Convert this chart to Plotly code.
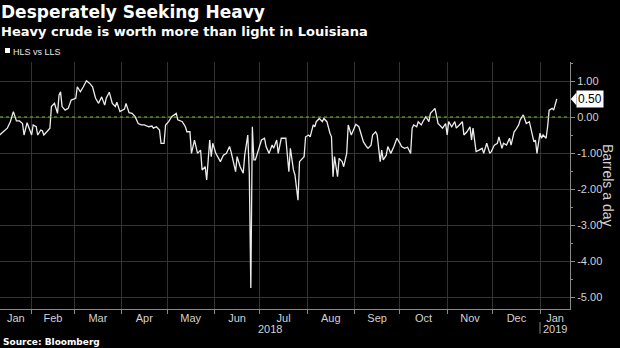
import plotly.graph_objects as go
import pandas as pd

# ---------------- data ----------------
dates = [
    "2018-01-11", "2018-01-16", "2018-01-18", "2018-01-20", "2018-01-22", "2018-01-24", "2018-01-26", "2018-01-27",
    "2018-01-29", "2018-01-31", "2018-02-01", "2018-02-02", "2018-02-04", "2018-02-05", "2018-02-07", "2018-02-08",
    "2018-02-09", "2018-02-11", "2018-02-13", "2018-02-14", "2018-02-16", "2018-02-18", "2018-02-19", "2018-02-20",
    "2018-02-21", "2018-02-23", "2018-02-25", "2018-02-27", "2018-03-02", "2018-03-03", "2018-03-05", "2018-03-07",
    "2018-03-09", "2018-03-11", "2018-03-13", "2018-03-15", "2018-03-17", "2018-03-19", "2018-03-21", "2018-03-22",
    "2018-03-24", "2018-03-26", "2018-03-28", "2018-03-29", "2018-03-31", "2018-04-03", "2018-04-04", "2018-04-06",
    "2018-04-08", "2018-04-10", "2018-04-12", "2018-04-14", "2018-04-16", "2018-04-19", "2018-04-21", "2018-04-22",
    "2018-04-24", "2018-04-26", "2018-04-27", "2018-04-29", "2018-04-30", "2018-05-02", "2018-05-04", "2018-05-07",
    "2018-05-08", "2018-05-11", "2018-05-13", "2018-05-14", "2018-05-16", "2018-05-17", "2018-05-19", "2018-05-21",
    "2018-05-23", "2018-05-24", "2018-05-26", "2018-05-27", "2018-05-29", "2018-05-30", "2018-05-31", "2018-06-02",
    "2018-06-05", "2018-06-07", "2018-06-09", "2018-06-11", "2018-06-12", "2018-06-15", "2018-06-16", "2018-06-18",
    "2018-06-20", "2018-06-21", "2018-06-22", "2018-06-23", "2018-06-24", "2018-06-25", "2018-06-26", "2018-06-27",
    "2018-06-28", "2018-06-30", "2018-07-02", "2018-07-04", "2018-07-05", "2018-07-07", "2018-07-09", "2018-07-10",
    "2018-07-12", "2018-07-13", "2018-07-14", "2018-07-15", "2018-07-18", "2018-07-20", "2018-07-21", "2018-07-23",
    "2018-07-24", "2018-07-26", "2018-07-27", "2018-07-28", "2018-07-30", "2018-07-31", "2018-08-02", "2018-08-03",
    "2018-08-05", "2018-08-06", "2018-08-07", "2018-08-09", "2018-08-11", "2018-08-12", "2018-08-14", "2018-08-16",
    "2018-08-17", "2018-08-18", "2018-08-19", "2018-08-21", "2018-08-22", "2018-08-24", "2018-08-25", "2018-08-27",
    "2018-08-28", "2018-08-30", "2018-08-31", "2018-09-02", "2018-09-04", "2018-09-05", "2018-09-07", "2018-09-09",
    "2018-09-10", "2018-09-12", "2018-09-13", "2018-09-15", "2018-09-16", "2018-09-18", "2018-09-19", "2018-09-20",
    "2018-09-22", "2018-09-23", "2018-09-25", "2018-09-27", "2018-09-29", "2018-10-01", "2018-10-02", "2018-10-04",
    "2018-10-06", "2018-10-08", "2018-10-09", "2018-10-10", "2018-10-12", "2018-10-13", "2018-10-15", "2018-10-16",
    "2018-10-18", "2018-10-20", "2018-10-21", "2018-10-23", "2018-10-24", "2018-10-26", "2018-10-27", "2018-10-29",
    "2018-10-31", "2018-11-01", "2018-11-02", "2018-11-04", "2018-11-06", "2018-11-07", "2018-11-09", "2018-11-11",
    "2018-11-12", "2018-11-14", "2018-11-16", "2018-11-17", "2018-11-18", "2018-11-20", "2018-11-22", "2018-11-24",
    "2018-11-25", "2018-11-27", "2018-11-29", "2018-11-30", "2018-12-02", "2018-12-04", "2018-12-05", "2018-12-07",
    "2018-12-08", "2018-12-10", "2018-12-12", "2018-12-13", "2018-12-15", "2018-12-16", "2018-12-18", "2018-12-19",
    "2018-12-21", "2018-12-22", "2018-12-23", "2018-12-25", "2018-12-27", "2018-12-28", "2018-12-29", "2018-12-30",
    "2019-01-01", "2019-01-02", "2019-01-03", "2019-01-05", "2019-01-06", "2019-01-07", "2019-01-09", "2019-01-10",
    "2019-01-12",
]
hls_vs_lls = [
    -0.50, -0.31, -0.13, 0.15, -0.11, -0.11, -0.18, -0.50,
    -0.16, -0.36, -0.50, -0.22, -0.27, -0.50, -0.36, -0.38,
    -0.50, -0.41, -0.31, 0.29, 0.38, 0.10, 0.61, 0.70,
    0.29, 0.19, 0.24, 0.47, 0.52, 0.84, 0.70, 0.84,
    1.01, 0.94, 0.84, 0.52, 0.38, 0.56, 0.33, 0.52,
    0.69, 0.38, 0.29, 0.41, 0.15, 0.22, 0.38, 0.12,
    0.10, 0.01, -0.18, -0.22, -0.22, -0.27, -0.25, -0.31,
    -0.27, -0.36, -0.73, -0.73, -0.22, -0.13, 0.01, 0.10,
    -0.08, -0.13, -0.27, -0.41, -0.41, -1.01, -0.64, -1.01,
    -0.92, -1.47, -1.38, -1.75, -0.64, -1.10, -0.73, -1.01,
    -1.24, -1.06, -1.01, -0.82, -0.96, -1.52, -1.10, -1.38,
    -1.56, -1.06, -0.82, -0.50, -1.56, -4.75, -0.27, -1.19,
    -1.19, -0.92, -0.64, -0.59, -0.82, -1.01, -0.78, -0.87,
    -0.64, -1.01, -0.82, -0.59, -0.59, -1.52, -0.87, -1.47,
    -1.61, -2.31, -1.24, -1.19, -1.10, -0.55, -0.50, -0.55,
    -0.22, -0.27, -0.13, -0.04, -0.13, -0.04, -0.13, -0.45,
    -0.55, -1.66, -1.10, -1.66, -1.15, -1.24, -1.38, -1.01,
    -0.22, -0.50, -0.41, -0.20, -0.27, -0.41, -0.69, -0.82,
    -0.87, -0.78, -0.50, -0.41, -0.50, -1.24, -0.92, -1.19,
    -1.06, -0.82, -1.01, -0.82, -0.59, -0.73, -0.82, -0.87,
    -0.84, -1.01, -0.31, -0.22, -0.27, -0.13, -0.22, -0.13,
    0.01, -0.13, 0.10, 0.19, 0.24, -0.18, -0.22, -0.31,
    -0.18, -0.50, -0.13, -0.27, -0.13, -0.31, -0.22, -0.13,
    -0.50, -0.41, -0.27, -0.64, -0.31, -0.96, -0.92, -0.87,
    -1.01, -0.73, -1.01, -0.96, -0.78, -0.73, -0.55, -0.87,
    -0.73, -0.78, -0.59, -0.78, -0.41, -0.36, -0.22, -0.08,
    0.06, -0.08, -0.18, -0.13, -0.50, -0.69, -0.64, -1.01,
    -0.45, -0.59, -0.50, -0.59, -0.27, 0.19, 0.24, 0.19,
    0.50,
]

series_name = "HLS vs LLS"
month_starts = ["2018-02-01", "2018-03-01", "2018-04-01", "2018-05-01", "2018-06-01", "2018-07-01",
                "2018-08-01", "2018-09-01", "2018-10-01", "2018-11-01", "2018-12-01", "2019-01-01"]
month_labels = ["Jan", "Feb", "Mar", "Apr", "May", "Jun", "Jul", "Aug", "Sep", "Oct", "Nov", "Dec", "Jan"]
year_labels = ["2018", "2019"]
y_tickvals = [1, 0, -1, -2, -3, -4, -5]
y_ticktext = ["1.00", "0.00", "-1.00", "-2.00", "-3.00", "-4.00", "-5.00"]
last_label = "0.50"

# ---------------- layout geometry ----------------
W, H = 620, 348
ML, MR, MT, MB = 0, 50, 62, 39
PW, PH = W - ML - MR, H - MT - MB
X0 = pd.Timestamp("2018-01-11 05:00")
X1 = pd.Timestamp("2019-01-20 17:00")
YMIN, YMAX = -5.333, 1.528

BG = "#000000"
GRID = "#333333"
AXIS = "#8a8a8a"
TXT = "#d2d2d2"
GREEN = "#7cc41e"
BOLD = "DejaVu Sans"
REG = "Liberation Sans, Arial, sans-serif"


def fx(ts):
    return (pd.Timestamp(ts) - X0) / (X1 - X0)


def py(p):
    # pixel row -> paper y
    return (H - MB - p) / PH


def pxx(p):
    return (p - ML) / PW


# month label centres: middle of visible part of each month
bounds = [X0] + [pd.Timestamp(m) for m in month_starts] + [X1]
label_pos = [bounds[i] + (bounds[i + 1] - bounds[i]) / 2 for i in range(len(bounds) - 1)]
jan19 = pd.Timestamp(month_starts[-1])

fig = go.Figure()
fig.add_trace(go.Scatter(
    x=dates, y=hls_vs_lls, mode="lines", name=series_name,
    line=dict(color="#ececec", width=1.3), showlegend=False, hoverinfo="skip",
))
# invisible anchor trace so the label axis is drawn
fig.add_trace(go.Scatter(
    x=[dates[0]], y=[hls_vs_lls[0]], xaxis="x2", mode="markers",
    marker=dict(opacity=0), showlegend=False, hoverinfo="skip",
))

vy = (hls_vs_lls[-1] - YMIN) / (YMAX - YMIN)

annotations = [
    dict(text="<b>Desperately Seeking Heavy</b>", x=pxx(-1), y=py(12.5), xanchor="left", yanchor="middle",
         font=dict(family=BOLD, size=17, color="#ffffff")),
    dict(text="<b>Heavy crude is worth more than light in Louisiana</b>", x=pxx(-1), y=py(31), xanchor="left",
         yanchor="middle", font=dict(family=BOLD, size=13, color="#ffffff")),
    # legend swatch
    dict(text="", x=pxx(5), y=py(51), xanchor="left", yanchor="middle", width=5, height=5,
         bgcolor="#ffffff", borderpad=0, borderwidth=0),
    dict(text=series_name, x=pxx(11), y=py(51.5), xanchor="left", yanchor="middle",
         font=dict(family=REG, size=9, color="#e8e8e8")),
    dict(text="<b>Source: Bloomberg</b>", x=pxx(1), y=py(341.5), xanchor="left", yanchor="middle",
         font=dict(family=BOLD, size=9, color="#ffffff")),
    dict(text=year_labels[0], x=fx(X0 + (jan19 - X0) / 2), y=py(329), xanchor="center", yanchor="middle",
         font=dict(family=REG, size=11, color=TXT)),
    dict(text=year_labels[1], x=fx(jan19 + (X1 - jan19) / 2), y=py(329), xanchor="center", yanchor="middle",
         font=dict(family=REG, size=11, color=TXT)),
    # year separator
    dict(text="", x=fx(jan19), y=py(322), ax=0, ay=13, showarrow=True, arrowhead=0,
         arrowwidth=1, arrowcolor=AXIS, standoff=0, startstandoff=0),
    dict(text="Barrels a day", x=pxx(608), y=py(185), xanchor="center", yanchor="middle", textangle=90,
         font=dict(family=REG, size=14, color=TXT)),
    dict(text=last_label, x=pxx(576), y=vy, xanchor="left",
         yanchor="middle", bgcolor="#ffffff", borderpad=1,
         font=dict(family=REG, size=12, color="#000000")),
]
for a in annotations:
    a.setdefault("xref", "paper")
    a.setdefault("yref", "paper")
    a.setdefault("showarrow", False)

shapes = [
    dict(type="line", xref="paper", yref="y", x0=0, x1=1, y0=0, y1=0,
         line=dict(color=GREEN, width=1.2, dash="dot")),
    # pointer of the last-value tag
    dict(type="path", xref="paper", yref="paper",
         path=f"M {pxx(570.8)},{vy} L {pxx(576.5)},{vy + 6.5 / PH} L {pxx(576.5)},{vy - 6.5 / PH} Z",
         fillcolor="#ffffff", line=dict(width=0)),
]

fig.update_layout(
    width=W, height=H,
    margin=dict(l=ML, r=MR, t=MT, b=MB),
    paper_bgcolor=BG, plot_bgcolor=BG,
    showlegend=False,
    xaxis=dict(
        type="date", range=[X0, X1], tickvals=month_starts, showticklabels=False,
        ticks="outside", ticklen=4, tickcolor=AXIS, showgrid=True, gridcolor=GRID, gridwidth=1,
        showline=True, linecolor=AXIS, linewidth=1, zeroline=False, fixedrange=True,
    ),
    xaxis2=dict(
        type="date", range=[X0, X1], overlaying="x", anchor="y", side="bottom",
        tickvals=label_pos, ticktext=month_labels, ticks="", showgrid=False, showline=False,
        zeroline=False, tickfont=dict(family=REG, size=11, color=TXT), ticklabelstandoff=1,
    ),
    yaxis=dict(
        side="right", range=[YMIN, YMAX], tickvals=y_tickvals, ticktext=y_ticktext,
        ticks="outside", ticklen=4, tickcolor=AXIS, showline=True, linecolor=AXIS, linewidth=1,
        showgrid=True, gridcolor=GRID, gridwidth=1, zeroline=False,
        tickfont=dict(family=REG, size=11, color=TXT),
        minor=dict(ticks="outside", ticklen=2, tickcolor=AXIS, dtick=0.5, showgrid=False),
    ),
    annotations=annotations,
    shapes=shapes,
)

fig.write_html("out.html")
